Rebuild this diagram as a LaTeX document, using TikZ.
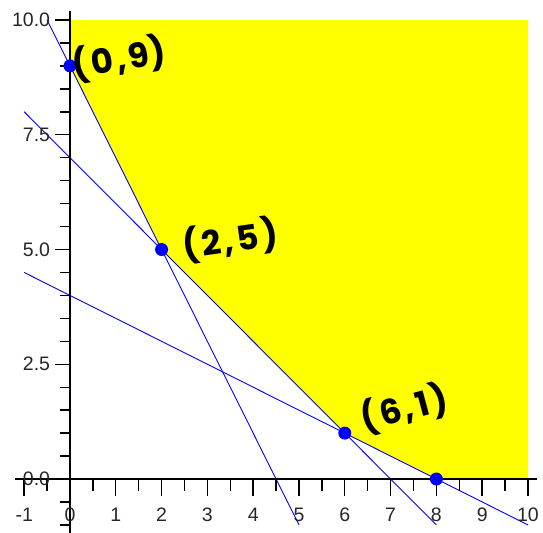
\documentclass[tikz,border=0pt]{standalone}
\usepackage{fontspec}
\setmainfont{Liberation Sans}
\newfontfamily\hand{Poppins}
\definecolor{fillyellow}{RGB}{255,255,0}
\definecolor{lineblue}{RGB}{0,0,255}
\newcommand{\hs}{\hspace{3pt}}
\begin{document}
\begin{tikzpicture}[x=45.8pt,y=45.9pt,
  lbl/.style={font=\fontsize{19.5}{20}\selectfont, text=black!85, inner sep=0pt},
  constraint/.style={draw=lineblue, line width=0.9pt},
  axisline/.style={line width=1.6pt},
  tickline/.style={line width=1.4pt},
  vertex/.style={circle, fill=lineblue, minimum size=13pt, inner sep=0pt},
  handlbl/.style={font=\hand\bfseries\fontsize{34}{36}\selectfont, inner sep=0pt}]
\useasboundingbox (-1.528,-1.176) rectangle (10.328,10.436);
% feasible region
\fill[fillyellow] (0,10) -- (10,10) -- (10,0) -- (8,0) -- (6,1) -- (2,5) -- (0,9) -- cycle;
% constraint lines
\coordinate (a1) at (-0.5,10); \coordinate (a2) at (5,-1);
\coordinate (b1) at (-1,8);    \coordinate (b2) at (8,-1);
\coordinate (c1) at (-1,4.5);  \coordinate (c2) at (10,-1);
\draw[constraint] (a1) -- (a2);
\draw[constraint] (b1) -- (b2);
\draw[constraint] (c1) -- (c2);
% axes
\coordinate (xs) at (-1.2,0); \coordinate (xe) at (10.2,0);
\coordinate (ys) at (0,-1.2); \coordinate (ye) at (0,10.2);
\draw[axisline] (xs) -- (xe);
\draw[axisline] (ys) -- (ye);
% x ticks and labels
\foreach \i in {-1,...,10} {
  \draw[tickline] (\i,0) -- ++(0,-17pt);
  \node[lbl] at (\i,-0.78) {\i};
}
\foreach \i in {-0.5,0.5,...,9.5} \draw[tickline] (\i,0) -- ++(0,-12pt);
% y ticks and labels
\foreach \j in {-1,-0.5,...,10} \draw[tickline] (0,\j) -- ++(-10pt,0);
\foreach \j/\t in {0/0.0,2.5/2.5,5/5.0,7.5/7.5,10/10.0} {
  \draw[tickline] (0,\j) -- ++(-15pt,0);
  \node[lbl, anchor=east] at (-0.43,\j) {\t};
}
% vertices
\node[vertex] (p09) at (0,9) {};
\node[vertex] (p25) at (2,5) {};
\node[vertex] (p61) at (6,1) {};
\node[vertex] (p80) at (8,0) {};
% handwritten labels
\node[handlbl, rotate=10] (l09) at (1.07,9.15) {(\hs0\hs,\hs9)};
\node[handlbl, rotate=8] (l25) at (3.5,5.2) {(\hs2\hs,\hs5\hs)};
\node[handlbl, rotate=15] (l61) at (7.3,1.53) {(\hs6\hs,\hs1\hs)};
\end{tikzpicture}
\end{document}
